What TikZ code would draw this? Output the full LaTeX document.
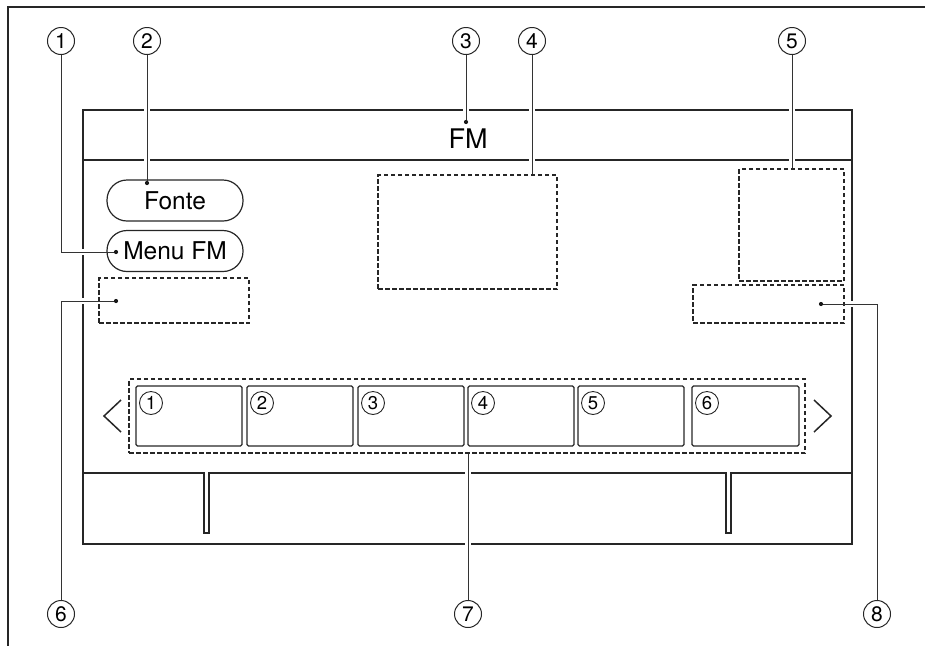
\documentclass[tikz,border=0pt]{standalone}
\usepackage{fontspec}
\setmainfont{TeX Gyre Heros}
\begin{document}
\begin{tikzpicture}[x=1pt,y=-1pt,
  scr/.style={draw=black!85, line width=2.2pt},
  barline/.style={draw=black!85, line width=1.4pt},
  dashbox/.style={draw=black!85, line width=1.1pt, dash pattern=on 4.5pt off 2.5pt, inner sep=0pt},
  call/.style={circle, draw=black!85, line width=1pt, minimum size=27pt, inner sep=0pt, font=\fontsize{21}{21}\selectfont},
  pnum/.style={circle, draw=black!85, line width=0.9pt, minimum size=23pt, inner sep=0pt, font=\fontsize{18.5}{18.5}\selectfont},
  lead/.style={draw=black!80, line width=1pt},
  pill/.style={draw=black!85, line width=1.2pt, rounded corners=20pt, minimum width=136pt, minimum height=41pt, inner sep=0pt, font=\fontsize{24.5}{24.5}\selectfont},
  preset/.style={draw=black!85, line width=1.2pt, rounded corners=1.5pt},
  chev/.style={draw=black!85, line width=1.5pt}
]
\useasboundingbox (0,0) rectangle (925,646);
% outer frame
\draw[line width=2pt, black!85] (925,7) -- (8,7) -- (8,646);
% screen
\draw[scr] (83,110) rectangle (852,544);
\draw[scr] (83,160) -- (852,160);
\draw[barline] (83,473) -- (204,473) -- (204,533) -- (209,533) -- (209,473) -- (726,473) -- (726,533) -- (731,533) -- (731,473) -- (852,473);
% title
\node[font=\fontsize{27}{27}\selectfont, anchor=base, inner sep=0pt] (fm) at (468,148) {FM};
% buttons
\node[pill] (fonte) at (175,200.5) {Fonte};
\node[pill] (menu) at (175,251) {Menu FM};
% dashed areas
\node[dashbox, minimum width=150pt, minimum height=45pt] (b6) at (174,300.5) {};
\node[dashbox, minimum width=179pt, minimum height=114pt] (b4) at (467.5,232) {};
\node[dashbox, minimum width=105pt, minimum height=112pt] (b5) at (791.5,225) {};
\node[dashbox, minimum width=151pt, minimum height=38pt] (b8) at (768.5,304) {};
\node[dashbox, minimum width=676pt, minimum height=74pt] (pre) at (467,416) {};
% presets
\foreach \l/\r/\n in {136/242/1,247/353/2,358/464/3,468/574/4,578/684/5,692/799/6}{
  \draw[preset] (\l,386) rectangle (\r,446);
  \node[pnum] (p\n) at (\l+15,403) {\n};
}
% chevrons
\draw[chev] (121,400) -- (104,416) -- (121,432);
\draw[chev] (814,400) -- (831,416) -- (814,432);
% callouts
\node[call] (c1) at (61,41) {1};
\node[call] (c2) at (147,41) {2};
\node[call] (c3) at (466,41) {3};
\node[call] (c4) at (532,41) {4};
\node[call] (c5) at (792,41) {5};
\node[call] (c6) at (61,614) {6};
\node[call] (c7) at (468,614) {7};
\node[call] (c8) at (877,614) {8};
\coordinate (t1) at (116,252);
\coordinate (t2) at (147,183);
\coordinate (t3) at (466,122);
\coordinate (t6) at (116,301);
\coordinate (t8) at (821,304);
% gaps where leaders cross screen lines
\foreach \x/\y in {147/110,147/160,466/110,532/110,532/160,792/110,792/160,468/473,468/544}
  \fill[white] (\x-3,\y-1.8) rectangle (\x+3,\y+1.8);
\foreach \x/\y in {83/252,83/301,852/304}
  \fill[white] (\x-1.8,\y-3) rectangle (\x+1.8,\y+3);
% leaders
\draw[lead] (c1) |- (t1);
\draw[lead] (c2) -- (t2);
\draw[lead] (c3) -- (t3);
\draw[lead] (c4) -- (c4 |- b4.north);
\draw[lead] (c5) -- (c5 |- b5.north);
\draw[lead] (c6) |- (t6);
\draw[lead] (c7) -- (c7 |- pre.south);
\draw[lead] (c8) |- (t8);
\foreach \t in {t1,t2,t3,t6,t8} \fill[black!90] (\t) circle (2.1);
\end{tikzpicture}
\end{document}
